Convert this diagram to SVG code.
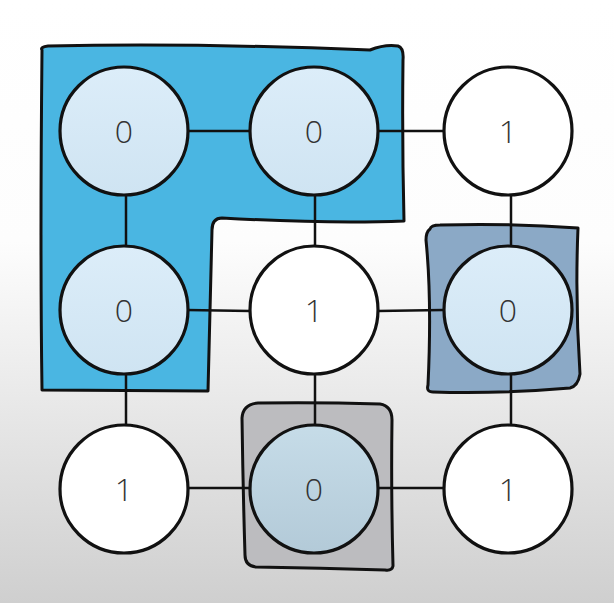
<svg xmlns="http://www.w3.org/2000/svg" width="614" height="603" viewBox="0 0 614 603">
<defs>
<linearGradient id="bg" x1="0" y1="0" x2="0" y2="1">
<stop offset="0" stop-color="#ffffff"/>
<stop offset="0.4" stop-color="#fdfdfd"/>
<stop offset="1" stop-color="#cfcfcf"/>
</linearGradient>
<linearGradient id="lb" x1="0" y1="0" x2="0" y2="1">
<stop offset="0" stop-color="#dcedf9"/>
<stop offset="1" stop-color="#cfe4f2"/>
</linearGradient>
<linearGradient id="gb" x1="0" y1="0" x2="0" y2="1">
<stop offset="0" stop-color="#c6dce8"/>
<stop offset="1" stop-color="#b3cad8"/>
</linearGradient>
<style>
.c{stroke:#111;stroke-width:3.2;}
.e{stroke:#111;stroke-width:2.5;fill:none;}
.w{fill:#ffffff;}
.l{fill:url(#lb);}
.g{fill:url(#gb);}
.t{font-family:"Open Sans","Liberation Sans",Arial,sans-serif;font-weight:300;font-size:32px;fill:#333;text-anchor:middle;}
.r{stroke:#111;stroke-width:3;stroke-linejoin:round;}
</style>
</defs>
<rect width="614" height="603" fill="url(#bg)"/>
<g id="regions">
<path class="r" fill="#4ab6e2" d="M42 50 Q40 47 48 46 Q200 43 370 50 Q385 44 398 46 Q404 48 403 60 Q402 140 404 221 Q330 224 222 218 Q212 218 212 230 Q210 300 208 391 L42 390 Q40 250 42 50 Z"/>
<path class="r" fill="#8ba9c6" d="M430 229 Q431 225 440 225 Q510 223 578 228 Q575 300 580 374 Q578 386 570 388 Q500 394 433 392 Q426 392 428 385 Q432 300 426 240 Q426 232 430 229 Z"/>
<path class="r" fill="#bcbcbf" d="M242 418 Q243 404 258 403 Q318 402 380 404 Q392 406 392 420 Q391 490 393 566 Q392 571 385 570 Q320 568 256 567 Q245 566 245 555 Q243 490 242 418 Z"/>
</g>
<g id="connectors" class="e">
<line x1="187" y1="131" x2="250" y2="131"/>
<line x1="378" y1="131" x2="443" y2="131"/>
<line x1="187" y1="310" x2="250" y2="311"/>
<line x1="378" y1="311" x2="443" y2="310"/>
<line x1="187" y1="488" x2="250" y2="488"/>
<line x1="378" y1="488" x2="443" y2="488"/>
<line x1="126" y1="196" x2="126" y2="245"/>
<line x1="126" y1="374" x2="126" y2="424"/>
<line x1="315" y1="196" x2="315" y2="246"/>
<line x1="315" y1="374" x2="315" y2="424"/>
<line x1="511" y1="196" x2="511" y2="246"/>
<line x1="511" y1="374" x2="511" y2="424"/>
</g>
<g id="n00"><circle class="c l" cx="124" cy="131" r="64"/><text class="t" x="124" y="143">0</text></g>
<g id="n01"><circle class="c l" cx="314" cy="131" r="64"/><text class="t" x="314" y="143">0</text></g>
<g id="n02"><circle class="c w" cx="508" cy="131" r="64"/><text class="t" x="508" y="143">1</text></g>
<g id="n10"><circle class="c l" cx="124" cy="310" r="64"/><text class="t" x="124" y="322">0</text></g>
<g id="n11"><circle class="c w" cx="314" cy="310" r="64"/><text class="t" x="314" y="322">1</text></g>
<g id="n12"><circle class="c l" cx="508" cy="310" r="64"/><text class="t" x="508" y="322">0</text></g>
<g id="n20"><circle class="c w" cx="124" cy="489" r="64"/><text class="t" x="124" y="501">1</text></g>
<g id="n21"><circle class="c g" cx="314" cy="489" r="64"/><text class="t" x="314" y="501">0</text></g>
<g id="n22"><circle class="c w" cx="508" cy="489" r="64"/><text class="t" x="508" y="501">1</text></g>
</svg>
